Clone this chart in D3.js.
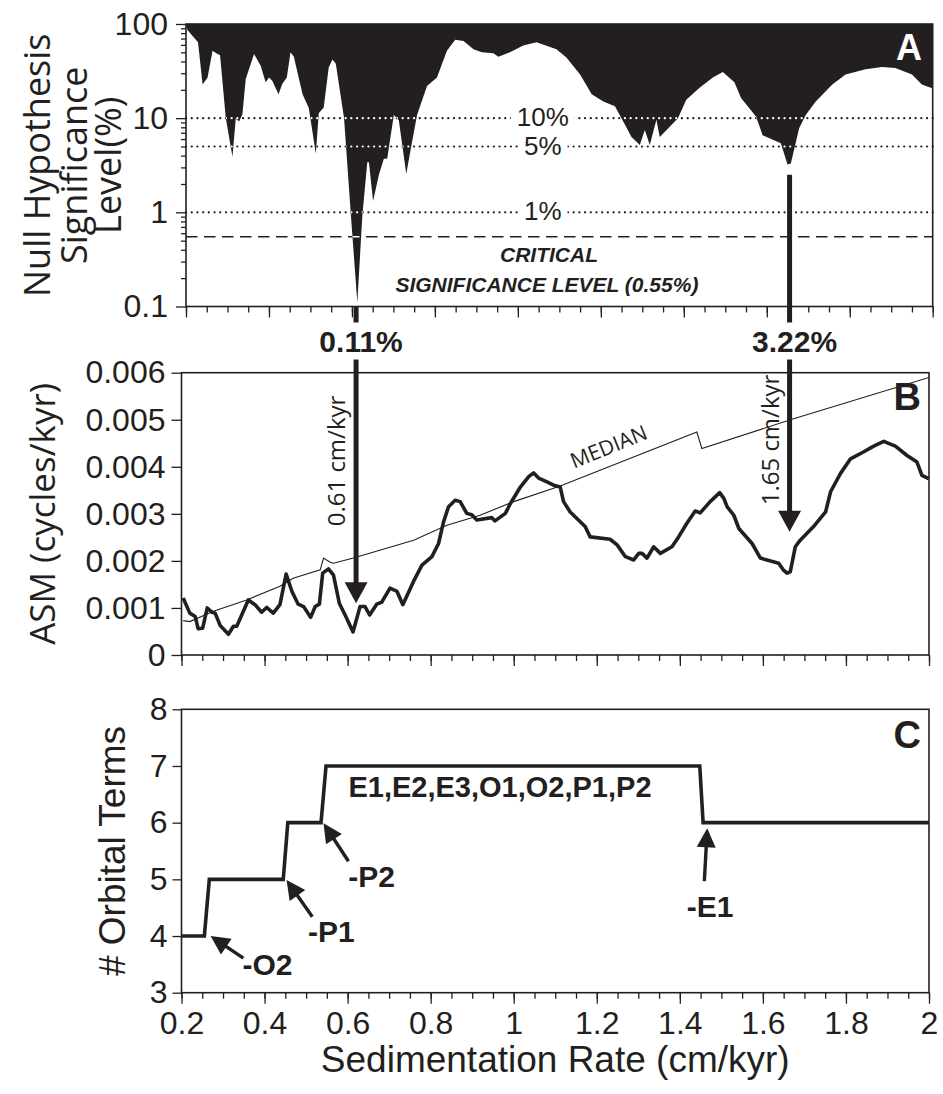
<!DOCTYPE html>
<html>
<head>
<meta charset="utf-8">
<script src="https://cdn.jsdelivr.net/npm/d3@7.9.0/dist/d3.min.js"></script>
<style>
  body { margin: 0; background: #fff; }
  svg text { font-family: "Liberation Sans", Arial, Helvetica, sans-serif; fill: #231f20; }
  svg text.hum { font-family: "Open Sans", "Noto Sans", sans-serif; }
</style>
</head>
<body>
<svg width="943" height="1094"></svg>
<script>
// ---- data ----
// panel A: null hypothesis significance level (%)
const sigRate = [0.2, 0.204, 0.229, 0.240, 0.252, 0.264, 0.276, 0.282, 0.296, 0.312, 0.320, 0.328, 0.336, 0.344, 0.364, 0.380, 0.392, 0.400, 0.408, 0.423, 0.432, 0.443, 0.452, 0.460, 0.481, 0.496, 0.513, 0.520, 0.532, 0.544, 0.553, 0.561, 0.581, 0.597, 0.613, 0.625, 0.637, 0.641, 0.651, 0.665, 0.677, 0.685, 0.701, 0.713, 0.731, 0.741, 0.757, 0.781, 0.805, 0.829, 0.849, 0.869, 0.893, 0.913, 0.941, 0.953, 0.981, 1.013, 1.045, 1.093, 1.117, 1.150, 1.178, 1.206, 1.234, 1.254, 1.274, 1.294, 1.306, 1.318, 1.334, 1.342, 1.386, 1.406, 1.438, 1.470, 1.494, 1.522, 1.538, 1.574, 1.590, 1.634, 1.650, 1.658, 1.678, 1.694, 1.718, 1.758, 1.790, 1.838, 1.878, 1.910, 1.950, 1.974, 1.995, 2.0];
const sigLevel = [95, 86, 64, 22.8, 27, 52, 48, 47, 10, 3.9, 10, 9.2, 11, 26, 48, 36, 24, 27, 25, 18, 23, 27, 50, 45, 18, 12.8, 4.2, 11.3, 13, 34.5, 42, 38, 10, 1.0, 0.11, 0.91, 3.4, 3.4, 1.32, 2.5, 3.7, 3.7, 10.8, 9.5, 2.56, 4.5, 10.8, 22, 27, 52, 68, 66, 54, 50, 49, 45, 50, 59, 64, 54, 44, 29, 18, 15, 13.4, 9.2, 6.3, 5.2, 7.5, 5.2, 9.6, 6.3, 10, 15.7, 21, 27, 31, 24, 16.4, 10.4, 6.6, 5.4, 3.22, 3.3, 7.8, 10.8, 15, 22.8, 29, 33, 35, 34, 29, 22.8, 21, 21];
const refLevels = [10, 5, 1];
const refLabels = ["10%", "5%", "1%"];
const criticalLevel = 0.55;

// panel B: ASM and its median
const asmRate = [0.204, 0.220, 0.233, 0.240, 0.251, 0.262, 0.273, 0.281, 0.293, 0.313, 0.325, 0.333, 0.345, 0.361, 0.377, 0.393, 0.405, 0.421, 0.437, 0.452, 0.466, 0.481, 0.494, 0.511, 0.522, 0.532, 0.540, 0.554, 0.566, 0.580, 0.594, 0.613, 0.630, 0.642, 0.653, 0.670, 0.682, 0.702, 0.719, 0.733, 0.759, 0.779, 0.803, 0.819, 0.831, 0.843, 0.859, 0.871, 0.887, 0.899, 0.911, 0.947, 0.955, 0.980, 0.992, 1.016, 1.036, 1.048, 1.060, 1.080, 1.096, 1.112, 1.120, 1.136, 1.172, 1.184, 1.232, 1.249, 1.269, 1.289, 1.301, 1.309, 1.321, 1.337, 1.353, 1.381, 1.397, 1.417, 1.437, 1.449, 1.473, 1.496, 1.506, 1.514, 1.530, 1.542, 1.574, 1.594, 1.638, 1.649, 1.658, 1.666, 1.678, 1.690, 1.722, 1.751, 1.763, 1.787, 1.811, 1.843, 1.867, 1.891, 1.919, 1.947, 1.971, 1.983, 1.999];
const asmValue = [0.00121, 0.00089, 0.00082, 0.00056, 0.00057, 0.00100, 0.00091, 0.00089, 0.00063, 0.00044, 0.00061, 0.00061, 0.00085, 0.00117, 0.00107, 0.00091, 0.00101, 0.00089, 0.00107, 0.00172, 0.00135, 0.00108, 0.00103, 0.00080, 0.00103, 0.00108, 0.00174, 0.00183, 0.00170, 0.00110, 0.00085, 0.00049, 0.00103, 0.00103, 0.00085, 0.00108, 0.00112, 0.00142, 0.00135, 0.00107, 0.00157, 0.00191, 0.00209, 0.00237, 0.00283, 0.00315, 0.00329, 0.00326, 0.00301, 0.00298, 0.00287, 0.00292, 0.00285, 0.00301, 0.00322, 0.00357, 0.00379, 0.00387, 0.00376, 0.00368, 0.00361, 0.00357, 0.00326, 0.00304, 0.00273, 0.00251, 0.00246, 0.00234, 0.00209, 0.00202, 0.00216, 0.00216, 0.00206, 0.00230, 0.00216, 0.00230, 0.00251, 0.00280, 0.00306, 0.00302, 0.00326, 0.00345, 0.00333, 0.00315, 0.00297, 0.00269, 0.00237, 0.00206, 0.00195, 0.00181, 0.00174, 0.00177, 0.00230, 0.00244, 0.00273, 0.00304, 0.00347, 0.00386, 0.00417, 0.00432, 0.00444, 0.00454, 0.00444, 0.00424, 0.00410, 0.00382, 0.00375];
const medRate = [0.204, 0.220, 0.277, 0.357, 0.437, 0.469, 0.534, 0.542, 0.558, 0.566, 0.614, 0.759, 0.839, 0.919, 1.000, 1.112, 1.441, 1.453, 1.674, 2.0];
const medValue = [0.00073, 0.00071, 0.00093, 0.00117, 0.00146, 0.00163, 0.00181, 0.00206, 0.00197, 0.00195, 0.00206, 0.00244, 0.00276, 0.00297, 0.00326, 0.00359, 0.00474, 0.00439, 0.00502, 0.00590];

// panel C: number of orbital terms
const termRate = [0.2, 0.255, 0.267, 0.445, 0.456, 0.536, 0.548, 1.448, 1.456, 2.0];
const termCount = [4, 4, 5, 5, 6, 6, 7, 7, 6, 6];

// annotations (data units)
const pickRate = [0.61, 1.655];
const pickLevel = ["0.11%", "3.22%"];
const pickNote = ["0.61 cm/kyr", "1.65 cm/kyr"];
const pickStart = [0.1, 2.5];        // significance level where arrow starts
const pickTip = [0.00110, 0.00262];  // ASM where arrow ends
const termLabels = ["-O2", "-P1", "-P2", "-E1"];
const termTail = [[0.349, 3.61], [0.515, 4.34], [0.602, 5.32], [1.459, 4.97]];
const termTip = [[0.270, 4.00], [0.453, 4.99], [0.542, 5.99], [1.466, 5.90]];
const termLabelPos = [[0.407, 3.31], [0.561, 3.90], [0.658, 4.87], [1.473, 4.33]];

// ticks
const xTicks = [0.2, 0.4, 0.6, 0.8, 1.0, 1.2, 1.4, 1.6, 1.8, 2.0];
const xTickLabels = ["0.2", "0.4", "0.6", "0.8", "1", "1.2", "1.4", "1.6", "1.8", "2"];
const sigTicks = [100, 10, 1, 0.1];
const sigTickLabels = ["100", "10", "1", "0.1"];
const asmTicks = [0, 0.001, 0.002, 0.003, 0.004, 0.005, 0.006];
const asmTickLabels = ["0", "0.001", "0.002", "0.003", "0.004", "0.005", "0.006"];
const termTicks = [3, 4, 5, 6, 7, 8];
const termTickLabels = ["3", "4", "5", "6", "7", "8"];

// ---- scales ----
const ink = "#231f20";
const svg = d3.select("svg");
const xA = d3.scaleLinear().domain([0.2, 2]).range([186, 932.7]);
const xB = d3.scaleLinear().domain([0.2, 2]).range([181.5, 929]);
const yA = d3.scaleLog().domain([0.1, 100]).range([306.5, 24]);
const yB = d3.scaleLinear().domain([0, 0.006]).range([655, 372.7]);
const yC = d3.scaleLinear().domain([3, 8]).range([992.7, 709.3]);

const minorX = d3.range(0.2, 2.0001, 0.05).map(v => +v.toFixed(2));
const tickFont = 32;

function bottomAxis(x, y, labelled) {
  svg.append("g").attr("transform", `translate(0,${y})`)
    .call(d3.axisBottom(x).tickValues(minorX).tickSize(6).tickSizeOuter(0).tickFormat(""))
    .call(g => g.select(".domain").remove());
  const g = svg.append("g").attr("transform", `translate(0,${y})`)
    .call(d3.axisBottom(x).tickValues(xTicks).tickSize(11).tickSizeOuter(0).tickPadding(8)
      .tickFormat((d, i) => labelled ? xTickLabels[i] : ""))
    .call(g => g.select(".domain").remove());
  g.selectAll("text").attr("font-size", tickFont).attr("font-family", null);
}

function frame(x, y) {
  svg.append("rect")
    .attr("x", x.range()[0]).attr("y", y.range()[1])
    .attr("width", x.range()[1] - x.range()[0]).attr("height", y.range()[0] - y.range()[1])
    .attr("fill", "none").attr("stroke", ink).attr("stroke-width", 1.6);
}

function arrow(g, x1, y1, x2, y2, lw, hl, hw) {
  const a = Math.atan2(y2 - y1, x2 - x1);
  const bx = x2 - hl * Math.cos(a), by = y2 - hl * Math.sin(a);
  g.append("line").attr("x1", x1).attr("y1", y1)
    .attr("x2", bx + Math.cos(a)).attr("y2", by + Math.sin(a))
    .attr("stroke", ink).attr("stroke-width", lw);
  const px = -Math.sin(a) * hw / 2, py = Math.cos(a) * hw / 2;
  g.append("path").attr("d", `M${x2},${y2}L${bx + px},${by + py}L${bx - px},${by - py}Z`).attr("fill", ink);
}

// ---- panel A ----
const sig = sigRate.map((r, i) => [r, sigLevel[i]]);
const sigArea = d3.area().x(d => xA(d[0])).y0(yA(100)).y1(d => yA(d[1]));
const defs = svg.append("defs");
defs.append("clipPath").attr("id", "sigClip").append("path").attr("d", sigArea(sig));

svg.append("path").attr("d", sigArea(sig)).attr("fill", ink);

const refG = svg.append("g");
function refLine(g, v, color, dash, w, cap) {
  g.append("line").attr("x1", xA(0.2)).attr("x2", xA(2)).attr("y1", yA(v)).attr("y2", yA(v))
    .attr("stroke", color).attr("stroke-width", w).attr("stroke-dasharray", dash)
    .attr("stroke-linecap", cap);
}
refLevels.forEach(v => refLine(refG, v, ink, "0.1,5.6", 2.2, "round"));
refLine(refG, criticalLevel, ink, "11.5,6.5", 1.6, "butt");
const refW = svg.append("g").attr("clip-path", "url(#sigClip)");
refLevels.forEach(v => refLine(refW, v, "#fff", "0.1,5.6", 2.2, "round"));
refLine(refW, criticalLevel, "#fff", "11.5,6.5", 1.6, "butt");

refLevels.forEach((v, i) => {
  const t = svg.append("text").attr("x", xA(1.06)).attr("y", yA(v) + 8)
    .attr("text-anchor", "middle").attr("font-size", 26).text(refLabels[i]);
  const b = t.node().getBBox();
  svg.insert("rect", () => t.node()).attr("x", b.x - 6).attr("y", b.y + 4)
    .attr("width", b.width + 12).attr("height", b.height - 8).attr("fill", "#fff");
});

svg.append("text").attr("x", xA(1.075)).attr("y", yA(criticalLevel) + 25)
  .attr("text-anchor", "middle").attr("font-size", 21).attr("font-weight", "bold")
  .attr("font-style", "italic").text("CRITICAL");
svg.append("text").attr("x", xA(1.07)).attr("y", yA(criticalLevel) + 55)
  .attr("text-anchor", "middle").attr("font-size", 21).attr("font-weight", "bold")
  .attr("font-style", "italic").text("SIGNIFICANCE LEVEL (0.55%)");

frame(xA, yA);
bottomAxis(xA, yA(0.1), false);

// left log axis
const minorSig = [];
[0.1, 1, 10].forEach(d => d3.range(2, 10).forEach(k => minorSig.push(+(k * d).toFixed(2))));
svg.append("g").attr("transform", `translate(${xA(0.2)},0)`)
  .call(d3.axisLeft(yA).tickValues(minorSig).tickSize(5).tickFormat(""))
  .call(g => g.select(".domain").remove());
svg.append("g").attr("transform", `translate(${xA(0.2)},0)`)
  .call(d3.axisLeft(yA).tickValues(sigTicks).tickSize(10).tickPadding(8)
    .tickFormat((d, i) => sigTickLabels[i]))
  .call(g => g.select(".domain").remove())
  .call(g => g.selectAll("text").attr("font-size", tickFont).attr("font-family", null));

svg.append("text").attr("x", 922).attr("y", 60).attr("text-anchor", "end")
  .attr("font-size", 36).attr("font-weight", "bold").style("fill", "#fff").text("A");

// ---- panel B ----
const clipB = defs.append("clipPath").attr("id", "clipB");
clipB.append("rect").attr("x", xB(0.2)).attr("y", yB(0.006))
  .attr("width", xB(2) - xB(0.2)).attr("height", yB(0) - yB(0.006));
const lineB = d3.line().x(d => xB(d[0])).y(d => yB(d[1]));
svg.append("path").attr("d", lineB(medRate.map((r, i) => [r, medValue[i]])))
  .attr("fill", "none").attr("stroke", ink).attr("stroke-width", 1.1).attr("clip-path", "url(#clipB)");
svg.append("path").attr("d", lineB(asmRate.map((r, i) => [r, asmValue[i]])))
  .attr("fill", "none").attr("stroke", ink).attr("stroke-width", 3.6)
  .attr("stroke-linejoin", "round").attr("clip-path", "url(#clipB)");

svg.append("text").attr("class", "hum")
  .attr("transform", `translate(${xB(1.145)},${yB(0.00396)}) rotate(-22)`)
  .attr("font-size", 21).text("MEDIAN");

frame(xB, yB);
bottomAxis(xB, yB(0), false);
svg.append("g").attr("transform", `translate(${xB(0.2)},0)`)
  .call(d3.axisLeft(yB).tickValues(asmTicks).tickSize(10).tickPadding(6)
    .tickFormat((d, i) => asmTickLabels[i]))
  .call(g => g.select(".domain").remove())
  .call(g => g.selectAll("text").attr("font-size", tickFont).attr("font-family", null));

svg.append("text").attr("x", 921).attr("y", 410).attr("text-anchor", "end")
  .attr("font-size", 38).attr("font-weight", "bold").text("B");

// ---- arrows linking A and B ----
const arrowG = svg.append("g");
pickRate.forEach((r, i) => {
  const x = xA(r);
  arrow(arrowG, x, yA(pickStart[i]), x, yB(pickTip[i]), 5, 21, 23);
  const t = arrowG.append("text").attr("x", x + 5).attr("y", yA(0.1) + 45)
    .attr("text-anchor", "middle").attr("font-size", 30).attr("font-weight", "bold").text(pickLevel[i]);
  const b = t.node().getBBox();
  arrowG.insert("rect", () => t.node()).attr("x", b.x - 2).attr("y", b.y - 2)
    .attr("width", b.width + 4).attr("height", b.height + 4).attr("fill", "#fff");
  const ny = i === 0 ? 461 : 440;
  arrowG.append("text").attr("class", "hum")
    .attr("transform", `translate(${x - 11},${ny}) rotate(-90)`)
    .attr("text-anchor", "middle").attr("font-size", 24).text(pickNote[i]);
});

// ---- panel C ----
svg.append("path").attr("d", d3.line().x(d => xB(d[0])).y(d => yC(d[1]))(termRate.map((r, i) => [r, termCount[i]])))
  .attr("fill", "none").attr("stroke", ink).attr("stroke-width", 3.6).attr("stroke-linejoin", "miter");

frame(xB, yC);
bottomAxis(xB, yC(3), true);
svg.append("g").attr("transform", `translate(${xB(0.2)},0)`)
  .call(d3.axisLeft(yC).tickValues(termTicks).tickSize(9).tickPadding(5)
    .tickFormat((d, i) => termTickLabels[i]))
  .call(g => g.select(".domain").remove())
  .call(g => g.selectAll("text").attr("font-size", tickFont).attr("font-family", null));

svg.append("text").attr("x", xB(0.602)).attr("y", yC(6.46))
  .attr("font-size", 29).attr("font-weight", "bold").text("E1,E2,E3,O1,O2,P1,P2");

const termG = svg.append("g");
termLabels.forEach((lab, i) => {
  arrow(termG, xB(termTail[i][0]), yC(termTail[i][1]), xB(termTip[i][0]), yC(termTip[i][1]), 3.4, 19, 19);
  termG.append("text").attr("x", xB(termLabelPos[i][0])).attr("y", yC(termLabelPos[i][1]))
    .attr("text-anchor", "middle").attr("font-size", 30).attr("font-weight", "bold").text(lab);
});

svg.append("text").attr("x", 921).attr("y", 748).attr("text-anchor", "end")
  .attr("font-size", 38).attr("font-weight", "bold").text("C");

svg.selectAll(".tick line").attr("stroke", ink).attr("stroke-width", 1.3);
svg.selectAll(".tick text").style("fill", ink);

// ---- axis titles ----
const titleA = ["Null Hypothesis", "Significance", "Level(%)"];
const titleAx = [50, 87, 121];
titleA.forEach((t, i) => {
  svg.append("text").attr("class", "hum")
    .attr("transform", `translate(${titleAx[i]},${(yA(100) + yA(0.1)) / 2}) rotate(-90)`)
    .attr("text-anchor", "middle").attr("font-size", 36).text(t);
});
svg.append("text").attr("class", "hum")
  .attr("transform", `translate(55,${(yB(0) + yB(0.006)) / 2}) rotate(-90)`)
  .attr("text-anchor", "middle").attr("font-size", 35).text("ASM (cycles/kyr)");
svg.append("text")
  .attr("transform", `translate(125,${(yC(3) + yC(8)) / 2}) rotate(-90)`)
  .attr("text-anchor", "middle").attr("font-size", 37).text("# Orbital Terms");
svg.append("text").attr("x", (xB(0.2) + xB(2)) / 2).attr("y", 1072)
  .attr("text-anchor", "middle").attr("font-size", 37).text("Sedimentation Rate (cm/kyr)");
</script>
</body>
</html>
